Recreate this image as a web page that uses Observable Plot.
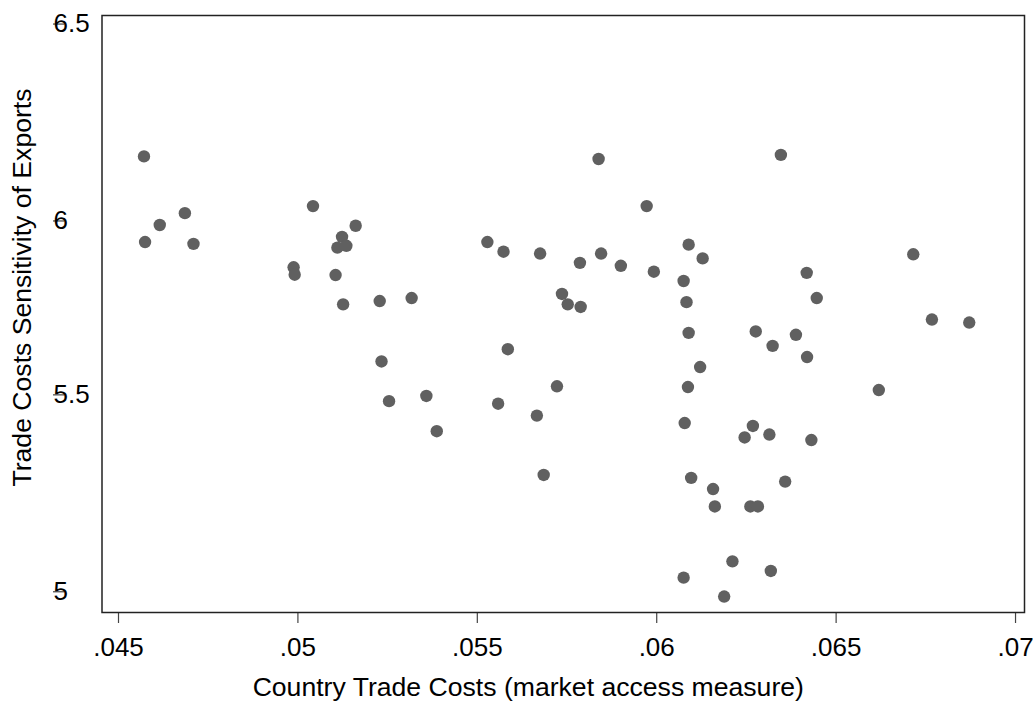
<!DOCTYPE html>
<html>
<head>
<meta charset="utf-8">
<script src="https://cdn.jsdelivr.net/npm/d3@7"></script>
<script src="https://cdn.jsdelivr.net/npm/@observablehq/plot@0.6"></script>
<style>
  html, body { margin: 0; padding: 0; background: #ffffff; }
  #chart svg { display: block; }
</style>
</head>
<body>
<div id="chart"></div>
<script>
// Country trade costs (market access measure)
const tradeCosts = [
  0.04571, 0.04574, 0.04615, 0.04685, 0.04709, 0.05042, 0.04988, 0.04991, 0.05105, 0.05110,
  0.05123, 0.05135, 0.05161, 0.05126, 0.05228, 0.05317, 0.05233, 0.05254, 0.05358, 0.05387,
  0.05528, 0.05573, 0.05675, 0.05585, 0.05722, 0.05558, 0.05666, 0.05685, 0.05736, 0.05752,
  0.05788, 0.05786, 0.05838, 0.05845, 0.05900, 0.05972, 0.05992, 0.06075, 0.06089, 0.06128,
  0.06083, 0.06089, 0.06121, 0.06087, 0.06078, 0.06096, 0.06157, 0.06162, 0.06075, 0.06188,
  0.06211, 0.06276, 0.06323, 0.06388, 0.06419, 0.06268, 0.06245, 0.06314, 0.06431, 0.06358,
  0.06261, 0.06282, 0.06318, 0.06346, 0.06418, 0.06446, 0.06619, 0.06715, 0.06767, 0.06871
];
// Trade costs sensitivity of exports
const sensitivity = [
  6.166, 5.935, 5.981, 6.013, 5.930, 6.032, 5.867, 5.847, 5.846, 5.920,
  5.949, 5.925, 5.979, 5.767, 5.776, 5.784, 5.613, 5.506, 5.520, 5.425,
  5.935, 5.909, 5.904, 5.646, 5.546, 5.499, 5.467, 5.307, 5.795, 5.767,
  5.760, 5.879, 6.159, 5.904, 5.871, 6.032, 5.855, 5.830, 5.928, 5.891,
  5.773, 5.690, 5.598, 5.544, 5.447, 5.299, 5.269, 5.222, 5.030, 4.979,
  5.074, 5.694, 5.655, 5.685, 5.625, 5.439, 5.408, 5.416, 5.401, 5.289,
  5.222, 5.222, 5.048, 6.170, 5.852, 5.784, 5.536, 5.902, 5.726, 5.718
];

const xTicks = [0.045, 0.05, 0.055, 0.06, 0.065, 0.07];
const xTickLabels = [".045", ".05", ".055", ".06", ".065", ".07"];
const yTicksHalf = [6.5, 5.5];
const yTicksHalfLabels = ["6.5", "5.5"];
const yTicksWhole = [6, 5];
const yTicksWholeLabels = ["6", "5"];

const xTitle = "Country Trade Costs (market access measure)";
const yTitle = "Trade Costs Sensitivity of Exports";

const FONT = "'Liberation Sans', Arial, Helvetica, sans-serif";
const FS = 26;
const TFS = 26.6;

const chart = Plot.plot({
  width: 1033,
  height: 706,
  marginLeft: 101.5,
  marginRight: 9,
  marginTop: 15,
  marginBottom: 94,
  style: { fontFamily: FONT, fontSize: FS + "px", background: "#ffffff", color: "#000" },
  x: { domain: [0.04454, 0.07025] },
  y: { domain: [4.936, 6.546] },
  marks: [
    Plot.axisX({
      ticks: xTicks,
      tickFormat: d => xTickLabels[xTicks.indexOf(d)],
      tickSize: 11,
      tickPadding: 14,
      stroke: "#444",
      strokeWidth: 1.2,
      fill: "#000",
      fontSize: FS,
      label: null
    }),
    Plot.axisY({
      ticks: yTicksHalf,
      tickFormat: d => yTicksHalfLabels[yTicksHalf.indexOf(d)],
      tickSize: 11.5,
      tickPadding: 0,
      textAnchor: "start",
      dx: -37,
      dy: -8.5,
      stroke: "#444",
      strokeWidth: 1.2,
      fill: "#000",
      fontSize: FS,
      label: null
    }),
    Plot.axisY({
      ticks: yTicksWhole,
      tickFormat: d => yTicksWholeLabels[yTicksWhole.indexOf(d)],
      tickSize: 11.5,
      tickPadding: 0,
      textAnchor: "start",
      dx: -37,
      dy: 3,
      stroke: "#444",
      strokeWidth: 1.2,
      fill: "#000",
      fontSize: FS,
      label: null
    }),
    Plot.frame({ stroke: "#222", strokeWidth: 1.5 }),
    Plot.dot(tradeCosts, {
      x: tradeCosts,
      y: sensitivity,
      r: 6.2,
      fill: "#606060",
      stroke: "none"
    }),
    Plot.text([xTitle], {
      text: d => d,
      frameAnchor: "bottom",
      textAnchor: "middle",
      lineAnchor: "middle",
      dx: -35,
      dy: 75,
      fontSize: TFS,
      fill: "#000"
    }),
    Plot.text([yTitle], {
      text: d => d,
      frameAnchor: "left",
      textAnchor: "middle",
      lineAnchor: "middle",
      rotate: -90,
      dx: -79.5,
      dy: -26.5,
      fontSize: TFS,
      fill: "#000"
    })
  ]
});

document.getElementById("chart").appendChild(chart);
</script>
</body>
</html>
